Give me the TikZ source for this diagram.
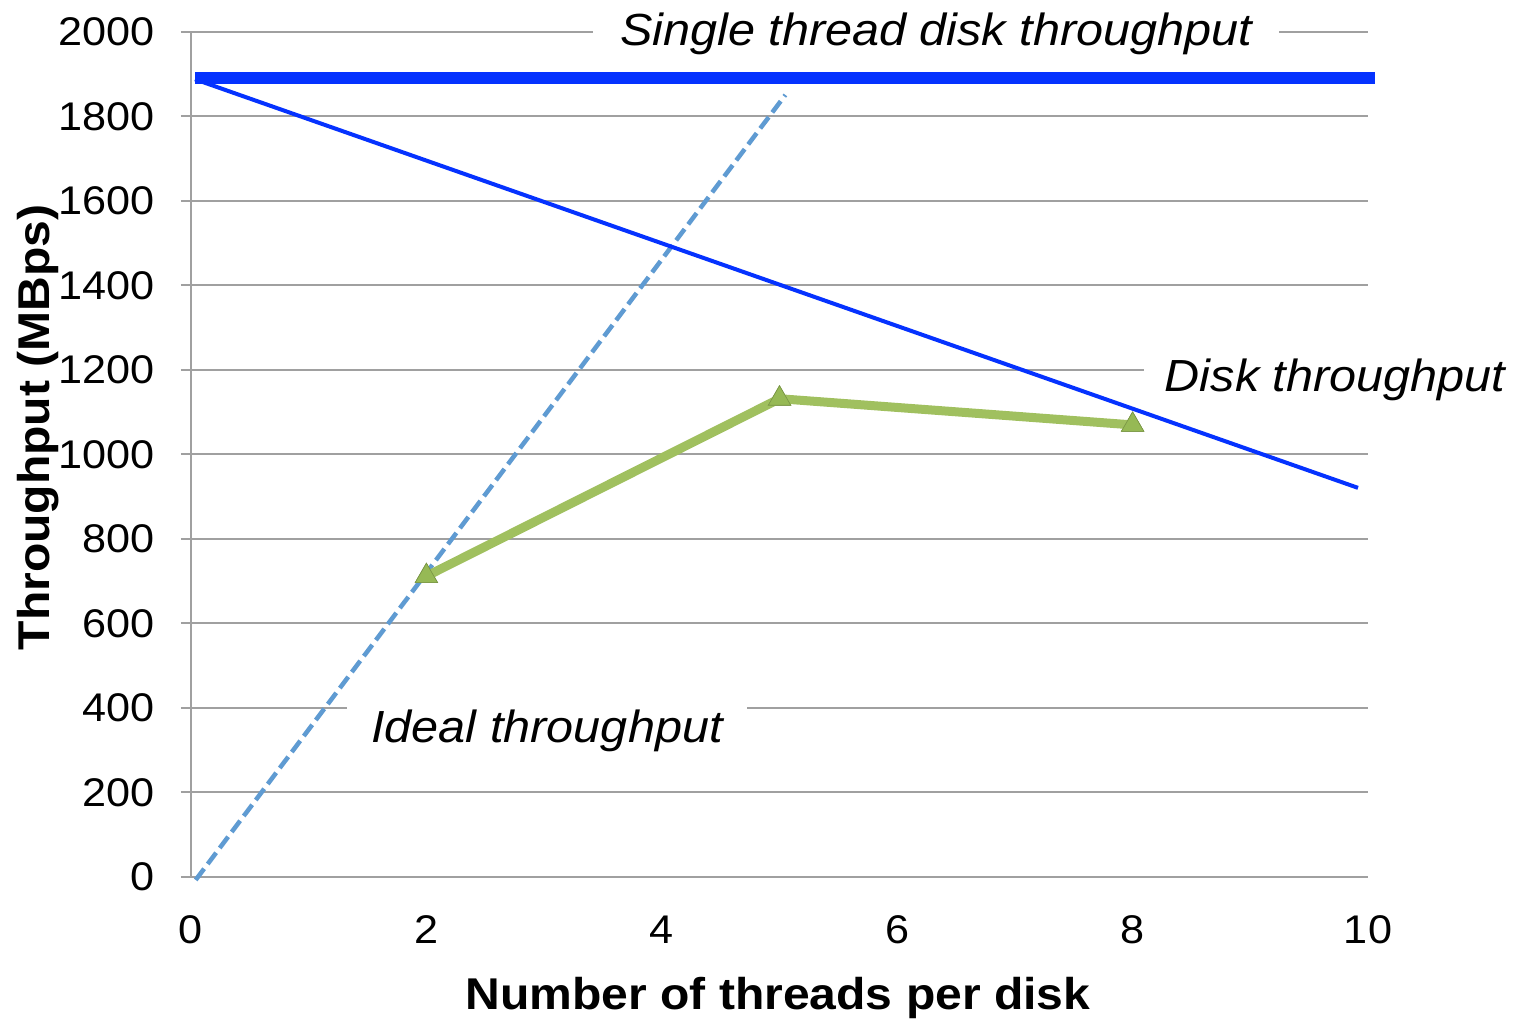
\documentclass[tikz,border=0pt]{standalone}
\usepackage{fontspec}
\setmainfont[FakeStretch=1.08]{Liberation Sans}
\usetikzlibrary{shapes.geometric}
\definecolor{gridgray}{RGB}{160,160,160}
\definecolor{strongblue}{RGB}{5,50,255}
\definecolor{idealblue}{RGB}{95,155,210}
\definecolor{seriesgreen}{RGB}{160,192,95}
\definecolor{markgreen}{RGB}{150,185,85}
\tikzset{
  gridline/.style={draw=gridgray, line width=2pt},
  ticklabel/.style={font=\fontsize{40}{42}\selectfont, inner sep=0pt},
  axistitle/.style={font=\fontsize{44.5}{46}\selectfont\bfseries, inner sep=0pt, anchor=base},
  serieslabel/.style={font=\fontsize{45}{47}\selectfont\itshape, fill=white, inner ysep=6pt, anchor=base},
  trimark/.style={regular polygon, regular polygon sides=3, fill=markgreen, draw=markgreen!80!black, line width=0.6pt, minimum size=26pt, inner sep=0pt},
}
\begin{document}
\begin{tikzpicture}[x=1pt,y=1pt]
\useasboundingbox (0,0) rectangle (1516,1019);
\fill[white] (0,0) rectangle (1516,1019);
\begin{scope}[shift={(191pt,142pt)}, x=117.7pt, y=0.4225pt]
  % gridlines and y tick labels
  \foreach \v in {0,200,...,2000} {
    \draw[gridline] (-0.085,\v) -- (10,\v);
    \node[ticklabel, anchor=east] (yl\v) at (-0.31,\v) {\v};
  }
  \draw[gridline] (0,0) -- (0,2000);
  \foreach \v in {0,2,...,10} {
    \node[ticklabel] (xl\v) at (\v,-125) {\v};
  }
  % axis titles
  \node[axistitle] (xtitle) at (4.987,-314.8) {Number of threads per disk};
  \node[axistitle, rotate=90] (ytitle) at (-1.198,1064) {Throughput (MBps)};
  % series labels
  \node[serieslabel, inner xsep=27pt] (lsingle) at (6.331,1969) {Single thread disk throughput};
  \node[serieslabel, inner xsep=21pt] (ldisk) at (9.72,1148) {Disk throughput};
  \node[serieslabel, inner xsep=24pt] (lideal) at (3.025,319.5) {Ideal throughput};
  % series
  \coordinate (st0) at (0.034,1890);
  \coordinate (st1) at (10.06,1890);
  \coordinate (dt0) at (0.034,1888);
  \coordinate (dt1) at (9.915,921);
  \coordinate (id0) at (0.04,-7);
  \coordinate (id1) at (5.05,1851);
  \draw[idealblue, line width=4.5pt, dash pattern=on 14pt off 6pt] (id0) -- (id1);
  \node[trimark] (p2) at (2,712) {};
  \node[trimark] (p5) at (5,1132) {};
  \node[trimark] (p8) at (8,1070) {};
  \draw[seriesgreen, line width=9pt, line join=round] (p2.center) -- (p5.center) -- (p8.center);
  \node[trimark] at (p2) {};
  \node[trimark] at (p5) {};
  \node[trimark] at (p8) {};
  \draw[strongblue, line width=4pt] (dt0) -- (dt1);
  \draw[strongblue, line width=12pt] (st0) -- (st1);
\end{scope}
\end{tikzpicture}
\end{document}
